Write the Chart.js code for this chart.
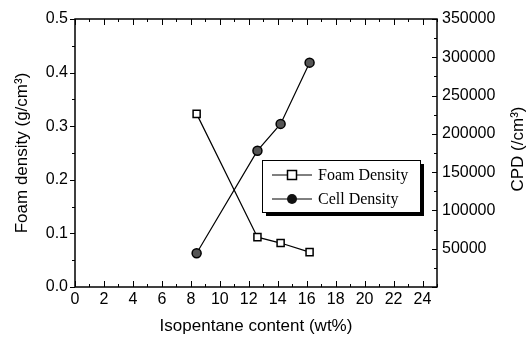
<!DOCTYPE html>
<html>
<head>
<meta charset="utf-8">
<script src="https://cdn.jsdelivr.net/npm/chart.js@4.4.1/dist/chart.umd.min.js"></script>
<style>
  html, body { margin: 0; padding: 0; background: #fff; }
  #wrap { width: 530px; height: 343px; }
</style>
</head>
<body>
<div id="wrap"><canvas id="chart" width="530" height="343"></canvas></div>
<script>
// isopentane content (wt%)
const isopentane = [8.4, 12.6, 14.2, 16.2];
// foam density (g/cm3)
const foamDensity = [0.323, 0.093, 0.082, 0.065];
// cell population density (/cm3)
const cellDensity = [44000, 178000, 213000, 293000];

const xTicks = [0, 2, 4, 6, 8, 10, 12, 14, 16, 18, 20, 22, 24];
const yTicks = [0, 0.1, 0.2, 0.3, 0.4, 0.5];
const y1Ticks = [50000, 100000, 150000, 200000, 250000, 300000, 350000];

const sans = 'Liberation Sans, Arial, sans-serif';

// frame, tick marks, right title, legend box
const decor = {
  id: 'decor',
  afterDraw(chart) {
    const { ctx, chartArea: a, scales } = chart;
    const x = scales.x, y = scales.y, y1 = scales.y1;
    ctx.save();
    ctx.strokeStyle = '#000';
    ctx.lineWidth = 1.5;
    ctx.strokeRect(a.left, a.top, a.right - a.left, a.bottom - a.top);

    ctx.lineWidth = 1;
    ctx.beginPath();
    for (let v = 0; v <= 25; v++) {
      const px = Math.round(x.getPixelForValue(v)) + 0.5;
      const len = v % 2 === 0 ? 6 : 3;
      ctx.moveTo(px, a.bottom); ctx.lineTo(px, a.bottom - len);
      ctx.moveTo(px, a.top); ctx.lineTo(px, a.top + len);
    }
    for (let i = 0; i <= 10; i++) {
      const py = Math.round(y.getPixelForValue(i * 0.05)) + 0.5;
      const len = i % 2 === 0 ? 5 : 3;
      ctx.moveTo(a.left, py); ctx.lineTo(a.left - len, py);
    }
    for (let i = 0; i <= 14; i++) {
      const py = Math.round(y1.getPixelForValue(i * 25000)) + 0.5;
      const len = i % 2 === 0 ? 5 : 3;
      ctx.moveTo(a.right, py); ctx.lineTo(a.right - len, py);
    }
    ctx.stroke();

    // right axis title, reads bottom to top like the left one
    ctx.save();
    ctx.translate(518, (a.top + a.bottom) / 2 - 4);
    ctx.rotate(-Math.PI / 2);
    ctx.fillStyle = '#000';
    ctx.font = '17px ' + sans;
    ctx.textAlign = 'center';
    ctx.textBaseline = 'middle';
    ctx.fillText('CPD (/cm³)', 0, 0);
    ctx.restore();

    // legend
    const bx = 262, by = 160, bw = 158, bh = 52;
    ctx.fillStyle = '#000';
    ctx.fillRect(bx + 4, by + 4, bw, bh);
    ctx.fillStyle = '#fff';
    ctx.fillRect(bx, by, bw, bh);
    ctx.strokeStyle = '#000';
    ctx.lineWidth = 1;
    ctx.strokeRect(bx + 0.5, by + 0.5, bw, bh);
    chart.data.datasets.forEach((ds, i) => {
      const ly = by + 15 + i * 24;
      ctx.beginPath();
      ctx.moveTo(bx + 10, ly); ctx.lineTo(bx + 50, ly);
      ctx.lineWidth = 1;
      ctx.strokeStyle = '#000';
      ctx.stroke();
      const mx = bx + 30;
      if (ds.pointStyle === 'rect') {
        ctx.fillStyle = '#fff';
        ctx.fillRect(mx - 4.5, ly - 4.5, 9, 9);
        ctx.lineWidth = 1.5;
        ctx.strokeRect(mx - 4.5, ly - 4.5, 9, 9);
      } else {
        ctx.beginPath();
        ctx.arc(mx, ly, 5, 0, Math.PI * 2);
        ctx.fillStyle = '#111';
        ctx.fill();
      }
      ctx.fillStyle = '#000';
      ctx.font = '16px Liberation Serif, Times New Roman, serif';
      ctx.textAlign = 'left';
      ctx.textBaseline = 'middle';
      ctx.fillText(ds.label, bx + 56, ly + 1);
    });
    ctx.restore();
  }
};

new Chart(document.getElementById('chart'), {
  type: 'line',
  data: {
    datasets: [
      {
        label: 'Foam Density',
        data: isopentane.map((v, i) => ({ x: v, y: foamDensity[i] })),
        yAxisID: 'y',
        borderColor: '#000',
        borderWidth: 1.2,
        pointStyle: 'rect',
        pointRadius: 5,
        pointBackgroundColor: '#fff',
        pointBorderColor: '#000',
        pointBorderWidth: 1.5,
        tension: 0
      },
      {
        label: 'Cell Density',
        data: isopentane.map((v, i) => ({ x: v, y: cellDensity[i] })),
        yAxisID: 'y1',
        borderColor: '#000',
        borderWidth: 1.2,
        pointStyle: 'circle',
        pointRadius: 4.5,
        pointBackgroundColor: '#555',
        pointBorderColor: '#000',
        pointBorderWidth: 1.5,
        tension: 0
      }
    ]
  },
  options: {
    responsive: false,
    animation: false,
    layout: { padding: { top: 19, right: 0, bottom: 0, left: 0 } },
    plugins: { legend: { display: false }, tooltip: { enabled: false } },
    scales: {
      x: {
        type: 'linear',
        min: 0,
        max: 25,
        afterBuildTicks: s => { s.ticks = xTicks.map(v => ({ value: v })); },
        afterFit: s => { s.height = 56; },
        grid: { display: false, drawTicks: false },
        border: { display: false },
        ticks: { color: '#000', font: { family: sans, size: 16 }, padding: 3, maxRotation: 0, autoSkip: false },
        title: {
          display: true,
          text: 'Isopentane content (wt%)',
          color: '#000',
          font: { family: sans, size: 17 },
          padding: { top: 0, bottom: 6 }
        }
      },
      y: {
        position: 'left',
        min: 0,
        max: 0.5,
        afterBuildTicks: s => { s.ticks = yTicks.map(v => ({ value: v })); },
        afterFit: s => { s.width = 75; },
        grid: { display: false, drawTicks: false },
        border: { display: false },
        ticks: { color: '#000', font: { family: sans, size: 16 }, padding: 7, callback: v => v.toFixed(1) },
        title: {
          display: true,
          text: 'Foam density (g/cm³)',
          color: '#000',
          font: { family: sans, size: 17 },
          padding: { top: 12, bottom: 0 }
        }
      },
      y1: {
        position: 'right',
        min: 0,
        max: 350000,
        afterBuildTicks: s => { s.ticks = y1Ticks.map(v => ({ value: v })); },
        afterFit: s => { s.width = 93; },
        grid: { display: false, drawTicks: false },
        border: { display: false },
        ticks: { color: '#000', font: { family: sans, size: 16 }, padding: 5, callback: v => String(v) }
      }
    }
  },
  plugins: [decor]
});
</script>
</body>
</html>
